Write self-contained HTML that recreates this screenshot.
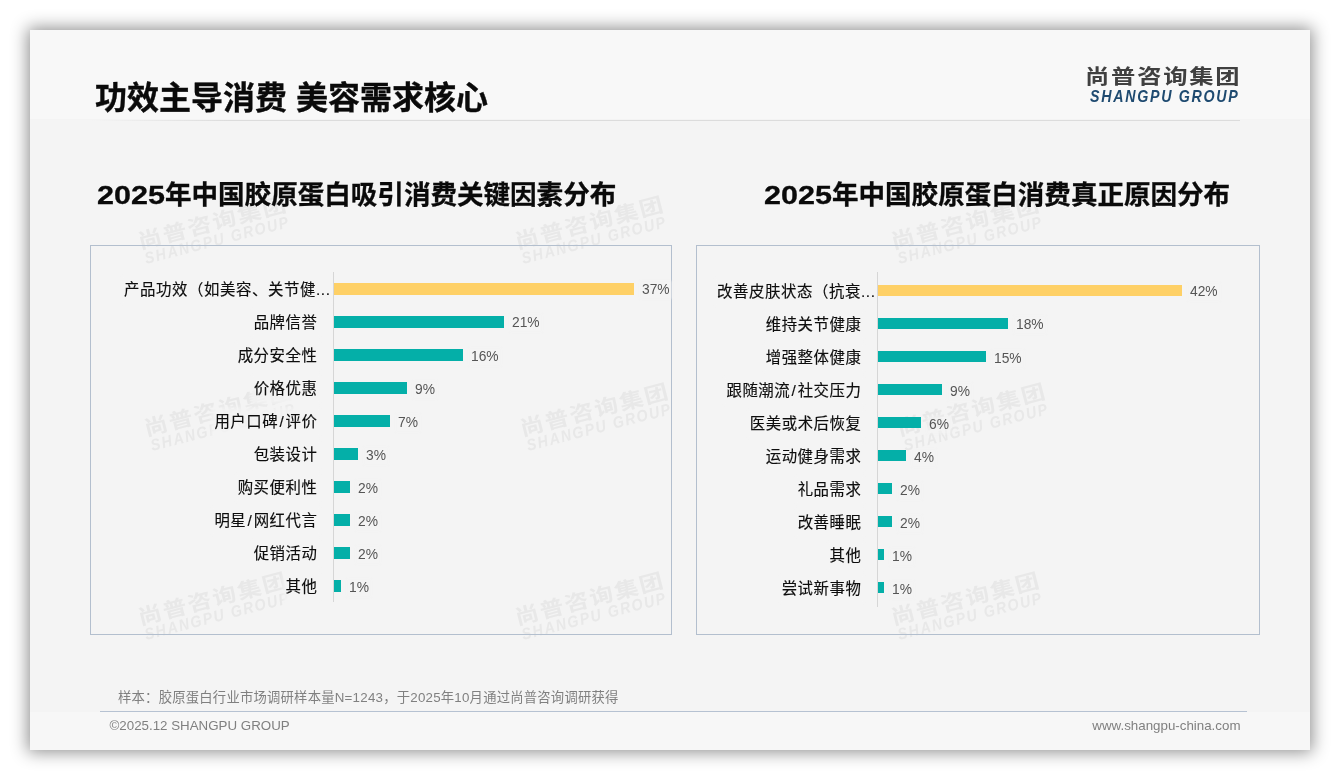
<!DOCTYPE html>
<html lang="zh-CN">
<head>
<meta charset="utf-8">
<title>功效主导消费 美容需求核心</title>
<style>
html,body{margin:0;padding:0;background:#fff;}
body{width:1340px;height:780px;position:relative;overflow:hidden;font-family:"Liberation Sans","Noto Sans CJK SC",sans-serif;}
#slide{position:absolute;left:30px;top:30px;width:1280px;height:720px;background:#f4f4f4;box-shadow:0 0 16px 2px rgba(0,0,0,.45);overflow:hidden;}
#head{position:absolute;left:0;top:0;width:1280px;height:89px;background:#f8f8f8;}
#headline{position:absolute;left:62px;top:90px;width:1148px;height:1px;background:linear-gradient(to right,rgba(225,225,225,0),#dcdcdc 12%,#dcdcdc);}
#foot{position:absolute;left:0;top:682px;width:1280px;height:38px;background:#f7f7f7;}
#footline{position:absolute;left:70px;top:681px;width:1147px;height:1px;background:#b6c2d2;}
.abs{position:absolute;white-space:nowrap;}
#title{left:65px;top:44.5px;font-size:32px;font-weight:700;color:#0a0a0a;line-height:46px;-webkit-text-stroke:.35px #0a0a0a;}
.ct{font-size:26.55px;font-weight:700;color:#0a0a0a;line-height:40px;-webkit-text-stroke:.3px #0a0a0a;}
.dg{display:inline-block;transform:scaleX(1.15);transform-origin:0 50%;margin-right:8.9px;}
.box{position:absolute;border:1px solid #b3bfce;box-sizing:border-box;}
.axis{position:absolute;width:1px;background:#d6d6d6;}
.lab{position:absolute;white-space:nowrap;font-size:15.4px;letter-spacing:.6px;margin-right:-.6px;color:#0d0d0d;line-height:24px;text-align:right;-webkit-text-stroke:.15px #0d0d0d;background:rgba(244,244,244,.75);box-shadow:0 0 3px 3px rgba(244,244,244,.75);}
.sl{padding:0 1.2px;}
.bar{position:absolute;height:12px;background:#04afa8;}
.bar.y{background:#fed066;}
.val{position:absolute;white-space:nowrap;font-size:13.8px;color:#555;line-height:14px;margin-top:3px;background:rgba(244,244,244,.6);box-shadow:0 0 2px 2px rgba(244,244,244,.6);}
.wm{position:absolute;transform:rotate(-14.5deg);transform-origin:center;color:#e8e8e8;text-align:center;white-space:nowrap;font-weight:700;width:200px;height:36px;}
.wm .c{position:absolute;left:0;width:200px;top:0;font-size:20.6px;line-height:20px;letter-spacing:1.5px;text-indent:1.5px;transform:scaleX(1.16);}
.wm .e{position:absolute;left:0;width:200px;top:18.5px;font-size:16.2px;line-height:16px;font-style:italic;letter-spacing:1.93px;text-indent:1.93px;transform:scaleX(.88);}
#logo1{left:1055px;top:32px;font-size:20.6px;font-weight:700;color:#404040;line-height:30px;letter-spacing:1.5px;transform:scaleX(1.18);transform-origin:0 0;}
#logo2{left:1060px;top:56.5px;font-size:16.2px;font-weight:700;font-style:italic;color:#1e4a70;line-height:18px;letter-spacing:1.93px;transform:scaleX(.88);transform-origin:0 0;}
.ft{font-size:13.33px;color:#808080;line-height:18px;}
</style>
</head>
<body>
<div id="slide">
  <div id="head"></div>
  <div id="headline"></div>
  <div id="foot"></div>
  <div id="footline"></div>

  <div class="abs" id="title">功效主导消费 美容需求核心</div>
  <div class="abs" id="logo1">尚普咨询集团</div>
  <div class="abs" id="logo2">SHANGPU GROUP</div>

  <div class="wm" style="left:84.3px;top:183.2px;"><div class="c">尚普咨询集团</div><div class="e">SHANGPU GROUP</div></div>
  <div class="wm" style="left:460.8px;top:183.2px;"><div class="c">尚普咨询集团</div><div class="e">SHANGPU GROUP</div></div>
  <div class="wm" style="left:837.3px;top:183.2px;"><div class="c">尚普咨询集团</div><div class="e">SHANGPU GROUP</div></div>
  <div class="wm" style="left:89.6px;top:370px;"><div class="c">尚普咨询集团</div><div class="e">SHANGPU GROUP</div></div>
  <div class="wm" style="left:466.1px;top:370px;"><div class="c">尚普咨询集团</div><div class="e">SHANGPU GROUP</div></div>
  <div class="wm" style="left:842.6px;top:370px;"><div class="c">尚普咨询集团</div><div class="e">SHANGPU GROUP</div></div>
  <div class="wm" style="left:84.3px;top:559.4px;"><div class="c">尚普咨询集团</div><div class="e">SHANGPU GROUP</div></div>
  <div class="wm" style="left:460.8px;top:559.4px;"><div class="c">尚普咨询集团</div><div class="e">SHANGPU GROUP</div></div>
  <div class="wm" style="left:837.3px;top:559.4px;"><div class="c">尚普咨询集团</div><div class="e">SHANGPU GROUP</div></div>

  <div class="abs ct" id="ct1" style="left:67px;top:144.6px;"><span class="dg">2025</span>年中国胶原蛋白吸引消费关键因素分布</div>
  <div class="abs ct" id="ct2" style="left:734px;top:144.6px;"><span class="dg">2025</span>年中国胶原蛋白消费真正原因分布</div>

  <div class="box" style="left:60px;top:215px;width:582px;height:390px;"></div>
  <div class="box" style="left:666px;top:215px;width:564px;height:390px;"></div>

  <div class="lab" style="right:980px;top:247.5px;">产品功效（如美容、关节健...</div>
  <div class="bar y" style="left:304px;top:252.6px;width:300px;height:12px;"></div>
  <div class="val" style="left:612px;top:250.4px;">37%</div>
  <div class="lab" style="right:993px;top:280.55px;">品牌信誉</div>
  <div class="bar" style="left:304px;top:285.65px;width:170px;height:12px;"></div>
  <div class="val" style="left:482px;top:283.45px;">21%</div>
  <div class="lab" style="right:993px;top:313.6px;">成分安全性</div>
  <div class="bar" style="left:304px;top:318.7px;width:129px;height:12px;"></div>
  <div class="val" style="left:441px;top:316.5px;">16%</div>
  <div class="lab" style="right:993px;top:346.65px;">价格优惠</div>
  <div class="bar" style="left:304px;top:351.75px;width:73px;height:12px;"></div>
  <div class="val" style="left:385px;top:349.55px;">9%</div>
  <div class="lab" style="right:993px;top:379.7px;">用户口碑<span class="sl">/</span>评价</div>
  <div class="bar" style="left:304px;top:384.8px;width:56px;height:12px;"></div>
  <div class="val" style="left:368px;top:382.6px;">7%</div>
  <div class="lab" style="right:993px;top:412.75px;">包装设计</div>
  <div class="bar" style="left:304px;top:417.85px;width:24px;height:12px;"></div>
  <div class="val" style="left:336px;top:415.65px;">3%</div>
  <div class="lab" style="right:993px;top:445.8px;">购买便利性</div>
  <div class="bar" style="left:304px;top:450.9px;width:16px;height:12px;"></div>
  <div class="val" style="left:328px;top:448.7px;">2%</div>
  <div class="lab" style="right:993px;top:478.85px;">明星<span class="sl">/</span>网红代言</div>
  <div class="bar" style="left:304px;top:483.95px;width:16px;height:12px;"></div>
  <div class="val" style="left:328px;top:481.75px;">2%</div>
  <div class="lab" style="right:993px;top:511.9px;">促销活动</div>
  <div class="bar" style="left:304px;top:517.0px;width:16px;height:12px;"></div>
  <div class="val" style="left:328px;top:514.8px;">2%</div>
  <div class="lab" style="right:993px;top:544.95px;">其他</div>
  <div class="bar" style="left:304px;top:550.05px;width:7px;height:12px;"></div>
  <div class="val" style="left:319px;top:547.85px;">1%</div>
  <div class="axis" style="left:303px;top:242px;height:330px;"></div>
  <div class="lab" style="right:435px;top:249.5px;">改善皮肤状态（抗衰...</div>
  <div class="bar y" style="left:848px;top:254.5px;width:304px;height:11.5px;"></div>
  <div class="val" style="left:1160px;top:252.4px;">42%</div>
  <div class="lab" style="right:449px;top:282.55px;">维持关节健康</div>
  <div class="bar" style="left:848px;top:287.55px;width:130px;height:11.5px;"></div>
  <div class="val" style="left:986px;top:285.45px;">18%</div>
  <div class="lab" style="right:449px;top:315.6px;">增强整体健康</div>
  <div class="bar" style="left:848px;top:320.6px;width:108px;height:11.5px;"></div>
  <div class="val" style="left:964px;top:318.5px;">15%</div>
  <div class="lab" style="right:449px;top:348.65px;">跟随潮流<span class="sl">/</span>社交压力</div>
  <div class="bar" style="left:848px;top:353.65px;width:64px;height:11.5px;"></div>
  <div class="val" style="left:920px;top:351.55px;">9%</div>
  <div class="lab" style="right:449px;top:381.7px;">医美或术后恢复</div>
  <div class="bar" style="left:848px;top:386.7px;width:43px;height:11.5px;"></div>
  <div class="val" style="left:899px;top:384.6px;">6%</div>
  <div class="lab" style="right:449px;top:414.75px;">运动健身需求</div>
  <div class="bar" style="left:848px;top:419.75px;width:28px;height:11.5px;"></div>
  <div class="val" style="left:884px;top:417.65px;">4%</div>
  <div class="lab" style="right:449px;top:447.8px;">礼品需求</div>
  <div class="bar" style="left:848px;top:452.8px;width:14px;height:11.5px;"></div>
  <div class="val" style="left:870px;top:450.7px;">2%</div>
  <div class="lab" style="right:449px;top:480.85px;">改善睡眠</div>
  <div class="bar" style="left:848px;top:485.85px;width:14px;height:11.5px;"></div>
  <div class="val" style="left:870px;top:483.75px;">2%</div>
  <div class="lab" style="right:449px;top:513.9px;">其他</div>
  <div class="bar" style="left:848px;top:518.9px;width:6px;height:11.5px;"></div>
  <div class="val" style="left:862px;top:516.8px;">1%</div>
  <div class="lab" style="right:449px;top:546.95px;">尝试新事物</div>
  <div class="bar" style="left:848px;top:551.95px;width:6px;height:11.5px;"></div>
  <div class="val" style="left:862px;top:549.85px;">1%</div>
  <div class="axis" style="left:847px;top:242px;height:335px;"></div>

  <div class="abs ft" id="samp" style="left:88px;top:659px;letter-spacing:.22px;">样本：胶原蛋白行业市场调研样本量N=1243，于2025年10月通过尚普咨询调研获得</div>
  <div class="abs ft" style="left:79.5px;top:686.8px;">©2025.12 SHANGPU GROUP</div>
  <div class="abs ft" style="right:69.5px;top:686.8px;">www.shangpu-china.com</div>
</div>
</body>
</html>
